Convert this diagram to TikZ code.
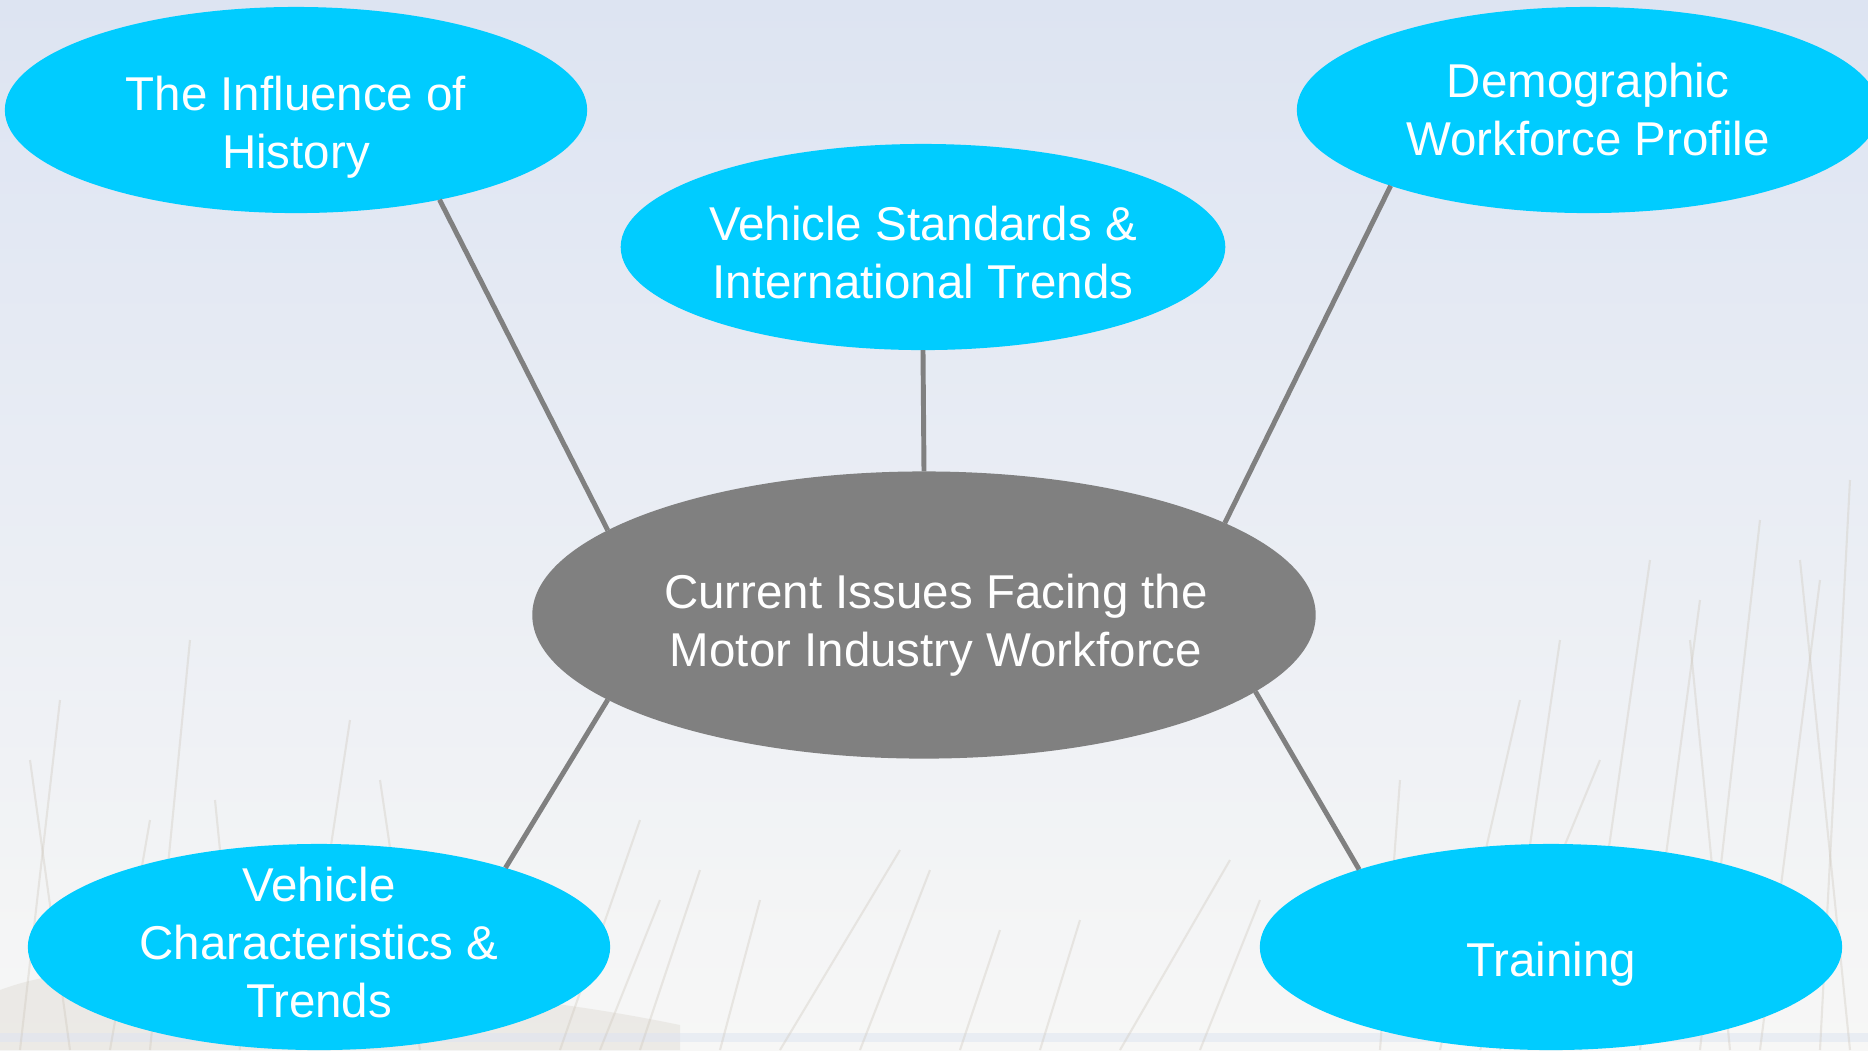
\documentclass[tikz,border=0pt]{standalone}
\usepackage{fontspec}
\setmainfont{Liberation Sans}
\usetikzlibrary{shapes.geometric}
\definecolor{bubble}{RGB}{0,204,255}
\definecolor{hubgray}{RGB}{128,128,128}
\definecolor{skytop}{RGB}{221,228,242}
\definecolor{skymid}{RGB}{242,246,251}
\definecolor{skylow}{RGB}{247,247,246}
\definecolor{reed}{RGB}{205,198,186}

\begin{document}
\begin{tikzpicture}[x=0.01cm, y=-0.01cm,
    topic/.style ={ellipse, fill=bubble, text=white, inner sep=0pt, outer sep=0pt,
                   minimum width=5.82cm, minimum height=2.06cm, align=center,
                   font=\fontsize{13.5}{16.5}\selectfont},
    issue/.style ={topic, fill=hubgray, inner xsep=-3mm, minimum width=7.83cm, minimum height=2.87cm},
    link/.style  ={draw=hubgray, line width=1.4pt}]
   \useasboundingbox (0,0) rectangle (1868,1050);
   \shade[top color=skytop, middle color=skymid, bottom color=skylow] (0,0) rectangle (1868,1050);
   \fill[reed, opacity=0.25] (0,1050) -- (0,990) .. controls (80,960) and (160,975) .. (260,985)
        .. controls (420,985) and (560,1000) .. (680,1025) -- (680,1050) -- cycle;
   \fill[skytop, opacity=0.5] (0,1033) rectangle (1868,1042);
   \foreach \xa/\xb/\yb in {20/60/700, 70/30/760, 110/150/820, 150/190/640, 240/215/800,
        300/350/720, 420/380/780, 560/640/820, 600/660/900, 640/700/870, 720/760/900,
        780/900/850, 860/930/870, 960/1000/930, 1040/1080/920, 1120/1230/860,
        1200/1260/900, 1380/1400/780, 1440/1520/700, 1480/1600/760, 1500/1560/640,
        1580/1650/560, 1640/1700/600, 1700/1760/520, 1730/1690/640, 1760/1820/580,
        1820/1850/480, 1850/1800/560}
     \draw[reed, line width=0.6pt, opacity=0.35] (\xa,1050) -- (\xb,\yb);
   \node[topic] (hist)  at (296,110) {\rule{0pt}{0.68cm}The Influence of\\History};
   \node[topic] (stds)  at (923,247) {\rule{0pt}{0.45cm}Vehicle Standards \&\\International Trends};
   \node[topic] (demo)  at (1588,110) {Demographic\\Workforce Profile};
   \node[issue] (issues) at (924,615) {\rule{0pt}{0.54cm}\hspace{0.24cm}Current Issues Facing the\\
                                       \hspace{0.24cm}Motor Industry Workforce};
   \node[topic, inner ysep=-3mm] (veh) at (319,947) {Vehicle\\Characteristics \&\\Trends\rule[-0.1cm]{0pt}{0.1cm}};
   \node[topic] (train) at (1551,947) {\rule{0pt}{0.68cm}Training};
   \draw[link] (hist.-32.5) -- (issues.165);
   \draw[link] (stds.south) -- (issues.north);
   \draw[link] (demo.-159.7) -- (issues.17.4);
   \draw[link] (veh.23.5) -- (issues.195.2);
   \draw[link] (train.158.3) -- (issues.-13.4);
 \end{tikzpicture}
\end{document}
